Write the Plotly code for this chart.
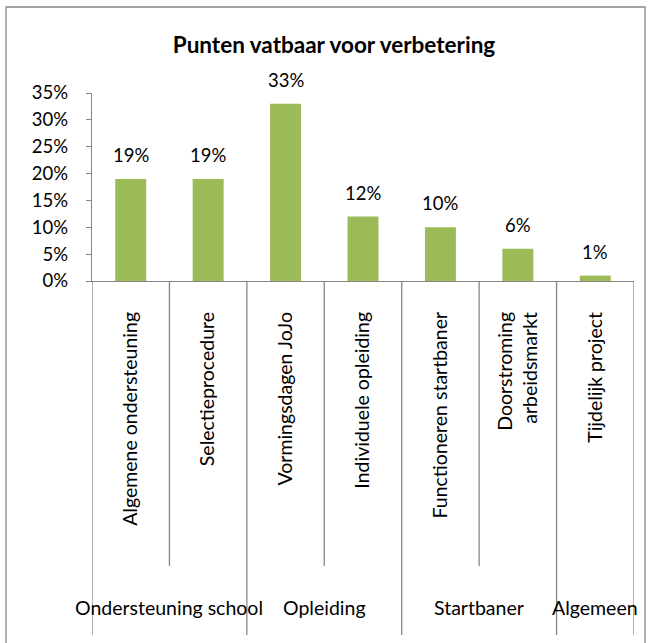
import plotly.graph_objects as go

categories = ["Algemene ondersteuning", "Selectieprocedure", "Vormingsdagen JoJo",
              "Individuele opleiding", "Functioneren startbaner",
              "Doorstroming<br>arbeidsmarkt", "Tijdelijk project"]
values = [0.19, 0.19, 0.33, 0.12, 0.10, 0.06, 0.01]
groups = ["Ondersteuning school", "Opleiding", "Startbaner", "Algemeen"]
group_sizes = [2, 2, 2, 1]
y_tickvals = [0, 0.05, 0.10, 0.15, 0.20, 0.25, 0.30, 0.35]

W, H = 652, 643
L, R, T, B = 92, 634, 93, 281  # plot area pixels
FONT = "Lato"
GRAY = "#868686"
TXT = 19.5
NUM = 18.5

def px_x(p):
    return (p - L) / (R - L)

def px_y(p):
    return (B - p) / (B - T)

xs = list(range(len(categories)))

fig = go.Figure(go.Bar(
    x=xs, y=values, marker=dict(color="#9BBB59", line=dict(width=0)),
    width=0.4, hoverinfo="skip",
))

shapes = []
annotations = []

# data labels
for x, v in zip(xs, values):
    annotations.append(dict(x=x, y=v, xref="x", yref="y", text=f"{round(v*100)}%",
                            showarrow=False, yanchor="middle", yshift=24,
                            font=dict(family=FONT, size=NUM, color="black")))

# category separators
c = 0
group_edges = [-0.5]
for n in group_sizes:
    c += n
    group_edges.append(c - 0.5)
for i in range(len(categories) + 1):
    xb = i - 0.5
    long = xb in group_edges
    y_end = px_y(635) if long else px_y(566)
    shapes.append(dict(type="line", xref="x", yref="paper", x0=xb, x1=xb,
                       y0=0, y1=y_end, line=dict(color=GRAY, width=1.3)))

# group labels
for g, a, b in zip(groups, group_edges[:-1], group_edges[1:]):
    annotations.append(dict(x=(a + b) / 2, y=px_y(607), xref="x", yref="paper",
                            text=g, showarrow=False, yanchor="middle",
                            font=dict(family=FONT, size=TXT, color="black")))

# outer border
shapes.append(dict(type="rect", xref="paper", yref="paper",
                   x0=px_x(6), x1=px_x(645), y0=px_y(660), y1=px_y(7),
                   line=dict(color=GRAY, width=1.3), layer="below"))

fig.update_layout(
    width=W, height=H,
    margin=dict(l=L, r=W - R, t=T, b=H - B, pad=0),
    paper_bgcolor="white", plot_bgcolor="white",
    showlegend=False,
    title=dict(text="<b>Punten vatbaar voor verbetering</b>", x=px_x(334), xref="paper",
               xanchor="center", y=1 - 45 / H, yanchor="middle",
               font=dict(family=FONT, size=22.5, color="black")),
    xaxis=dict(range=[-0.5, len(categories) - 0.5], tickvals=xs, ticktext=categories,
               tickangle=-90, showline=True, linecolor=GRAY, linewidth=1.3,
               ticks="", showgrid=False, zeroline=False, ticklabelstandoff=22,
               tickfont=dict(family=FONT, size=TXT, color="black")),
    yaxis=dict(range=[0, 0.35], tickvals=y_tickvals, tickformat=".0%",
               showline=True, linecolor=GRAY, linewidth=1.3, ticks="outside",
               ticklen=5, tickcolor=GRAY, tickwidth=1.3, showgrid=False,
               zeroline=False, ticklabelstandoff=14,
               tickfont=dict(family=FONT, size=NUM, color="black")),
    shapes=shapes, annotations=annotations,
    font=dict(family=FONT),
)

fig.write_html("out.html", config={"displayModeBar": False},
               post_script="document.body.style.margin='0px';")
